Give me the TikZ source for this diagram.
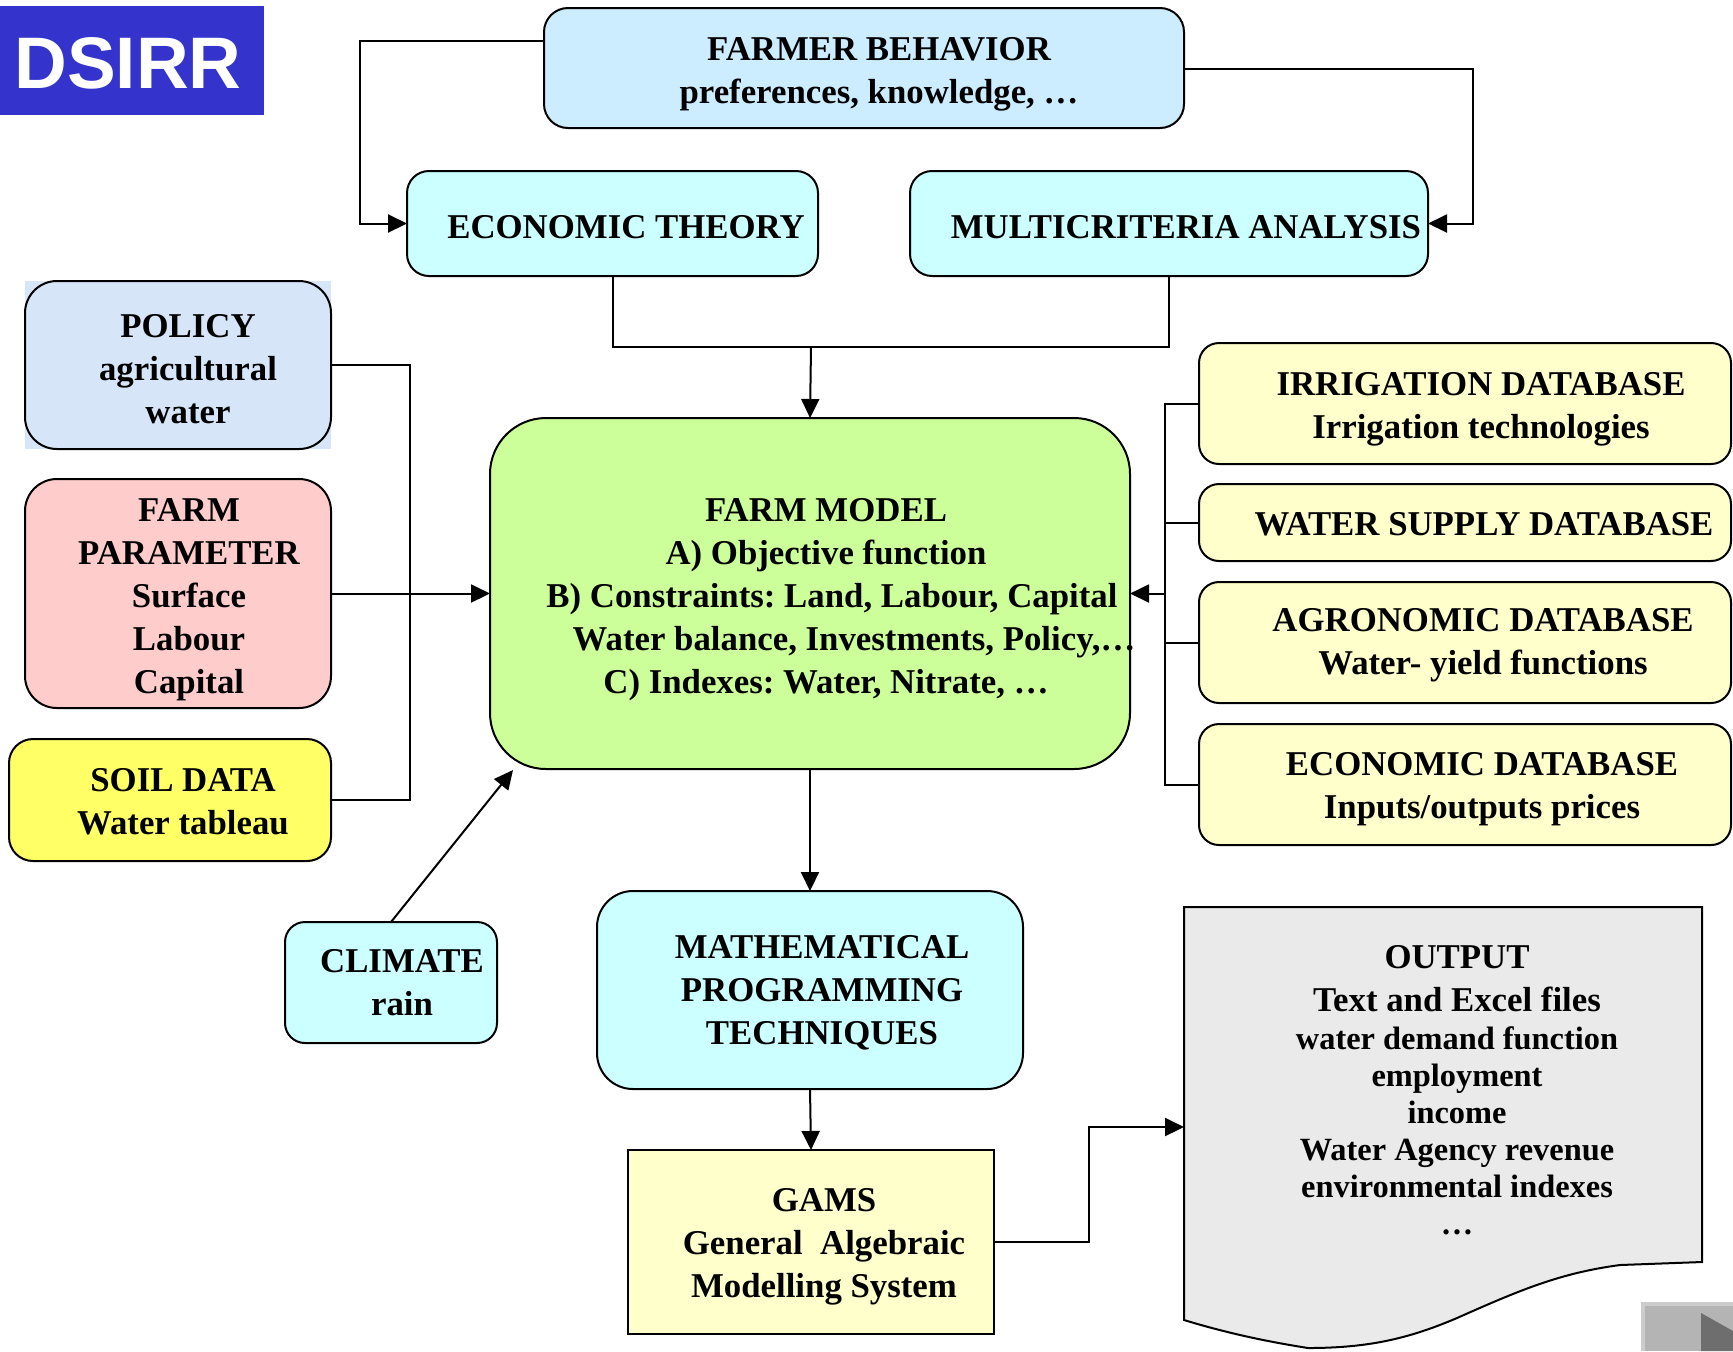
\documentclass[tikz,border=0pt]{standalone}
\usepackage{fontspec}
\setmainfont{Liberation Serif}
\newfontfamily\dsfont{Liberation Sans}
\usetikzlibrary{arrows.meta,fit}
\frenchspacing
\definecolor{dsblue}{RGB}{52,52,204}
\definecolor{fbcol}{RGB}{204,236,255}
\definecolor{cyanbox}{RGB}{204,255,255}
\definecolor{polcol}{RGB}{214,230,248}
\definecolor{fpcol}{RGB}{255,204,204}
\definecolor{soilcol}{RGB}{255,255,102}
\definecolor{fmcol}{RGB}{204,255,153}
\definecolor{dbcol}{RGB}{255,255,204}
\definecolor{outcol}{RGB}{234,234,234}
\definecolor{btncol}{RGB}{180,180,180}
\definecolor{btnlight}{RGB}{204,204,204}
\definecolor{btndark}{RGB}{110,110,110}
\tikzset{
  box/.style={draw=black, line width=1pt, inner sep=0pt, outer sep=0pt},
  txt/.style={font=\fontsize{17.4}{21.5}\selectfont\bfseries, align=center, inner sep=0pt},
  conn/.style={line width=1pt},
  arr/.style={line width=1pt, -{Triangle[length=9.5pt,width=9pt]}},
}
\begin{document}
\begin{tikzpicture}[x=0.5pt,y=-0.5pt]
\useasboundingbox (0,0) rectangle (1733,1351);

% DSIRR title
\node[fill=dsblue, inner sep=0pt, outer sep=0pt, fit={(0,6) (264,115)}] (ds) {};
\node[anchor=base, inner sep=0pt, text=white, font=\dsfont\bfseries\fontsize{36.5}{40}\selectfont] (dsT) at (128,88) {DSIRR};

% top boxes
\node[box, fill=fbcol, rounded corners=12pt, fit={(544,8) (1184,128)}] (fb) {};
\node[txt] (fbT) at (879,74) {FARMER BEHAVIOR\\preferences, knowledge, …};
\node[box, fill=cyanbox, rounded corners=11pt, fit={(407,171) (818,276)}] (et) {};
\node[txt] (etT) at (626,227) {ECONOMIC THEORY};
\node[box, fill=cyanbox, rounded corners=11pt, fit={(910,171) (1428,276)}] (mca) {};
\node[txt] (mcaT) at (1186,227) {MULTICRITERIA ANALYSIS};

% left boxes
\fill[polcol] (25,281) rectangle (331,449);
\node[box, rounded corners=16pt, fit={(25,281) (331,449)}] (pol) {};
\node[txt] (polT) at (188,369) {POLICY\\agricultural\\water};
\node[box, fill=fpcol, rounded corners=16pt, fit={(25,479) (331,708)}] (fp) {};
\node[txt] (fpT) at (189,600) {FARM\\PARAMETER\\Surface\\Labour\\Capital};
\node[box, fill=soilcol, rounded corners=12pt, fit={(9,739) (331,861)}] (soil) {};
\node[txt] (soilT) at (183,802) {SOIL DATA\\Water tableau};

% farm model
\node[box, fill=fmcol, rounded corners=28pt, fit={(490,418) (1130,769)}] (fm) {};
\node[txt] (fmT) at (826,600) {FARM MODEL\\A) Objective function\\\hspace*{6pt}B) Constraints: Land, Labour, Capital\\\hspace*{28pt}Water balance, Investments, Policy,…\\C) Indexes: Water, Nitrate, …};

% databases
\node[box, fill=dbcol, rounded corners=10pt, fit={(1199,343) (1731,464)}] (irr) {};
\node[txt] (irrT) at (1481,409) {IRRIGATION DATABASE\\Irrigation technologies};
\node[box, fill=dbcol, rounded corners=10pt, fit={(1199,484) (1731,561)}] (ws) {};
\node[txt] (wsT) at (1484,524) {WATER SUPPLY DATABASE};
\node[box, fill=dbcol, rounded corners=10pt, fit={(1199,582) (1731,703)}] (agr) {};
\node[txt] (agrT) at (1483,645) {AGRONOMIC DATABASE\\Water- yield functions};
\node[box, fill=dbcol, rounded corners=10pt, fit={(1199,724) (1731,845)}] (eco) {};
\node[txt] (ecoT) at (1482,789) {ECONOMIC DATABASE\\Inputs/outputs prices};

% lower boxes
\node[box, fill=cyanbox, rounded corners=10pt, fit={(285,922) (497,1043)}] (clim) {};
\node[txt] (climT) at (402,983) {CLIMATE\\rain};
\node[box, fill=cyanbox, rounded corners=18pt, fit={(597,891) (1023,1089)}] (math) {};
\node[txt] (mathT) at (822,993) {MATHEMATICAL\\PROGRAMMING\\TECHNIQUES};
\node[box, fill=dbcol, fit={(628,1150) (994,1334)}] (gams) {};
\node[txt] (gamsT) at (824,1247) {GAMS\\General\ \ Algebraic\\Modelling System};

% output document shape
\node[inner sep=0pt, outer sep=0pt, fit={(1184,907) (1702,1262)}] (out) {};
\draw[line width=1pt, fill=outcol] (1184,907) -- (1702,907) -- (1702,1262)
  -- (1620,1265) .. controls (1560,1273) and (1520,1290) .. (1457,1318)
  .. controls (1410,1338) and (1370,1348) .. (1308,1348)
  .. controls (1270,1342) and (1230,1334) .. (1184,1320) -- cycle;
\node[txt, font=\fontsize{16.2}{18.5}\selectfont\bfseries] (outT) at (1457,1090)
  {{\fontsize{17.4}{21.5}\selectfont OUTPUT}\\[3pt]{\fontsize{17.4}{21.5}\selectfont Text and Excel files}\\[0.5pt]water demand function\\employment\\income\\Water Agency revenue\\environmental indexes\\…};

% connectors
\draw[arr] (fb.west |- 0,41) -- (360,41) |- (et.west);
\draw[arr] (fb.east |- 0,69) -- (1473,69) |- (mca.east);
\coordinate (j) at (811,347);
\draw[conn] (et.south) |- (mca.south |- j) -- (mca.south);
\draw[arr] (j) -- (fm.north);

\draw[conn] (pol.east) -| (410,800) -- (soil.east);
\draw[arr] (fp.east) -- (fm.west);

\coordinate (rb) at (1165,593.5);
\draw[conn] (irr.west) -- (irr.west -| rb) -- (eco.west -| rb) -- (eco.west);
\draw[conn] (ws.west) -- (ws.west -| rb);
\draw[conn] (agr.west) -- (agr.west -| rb);
\draw[arr] (rb) -- (fm.east);

\coordinate (fmsw) at (513,770);
\draw[arr] (clim.north) -- (fmsw);
\draw[arr] (fm.south) -- (math.north);
\draw[arr] (math.south) -- (gams.north);
\draw[arr] (gams.east) -| (1089,1127) -- (out.west |- 0,1127);

% navigation button
\fill[btnlight] (1641,1302) rectangle (1733,1351);
\fill[btncol] (1645,1306) rectangle (1733,1351);
\fill[btndark] (1701,1313) -- (1733,1331) -- (1733,1351) -- (1701,1351) -- cycle;
\end{tikzpicture}
\end{document}
